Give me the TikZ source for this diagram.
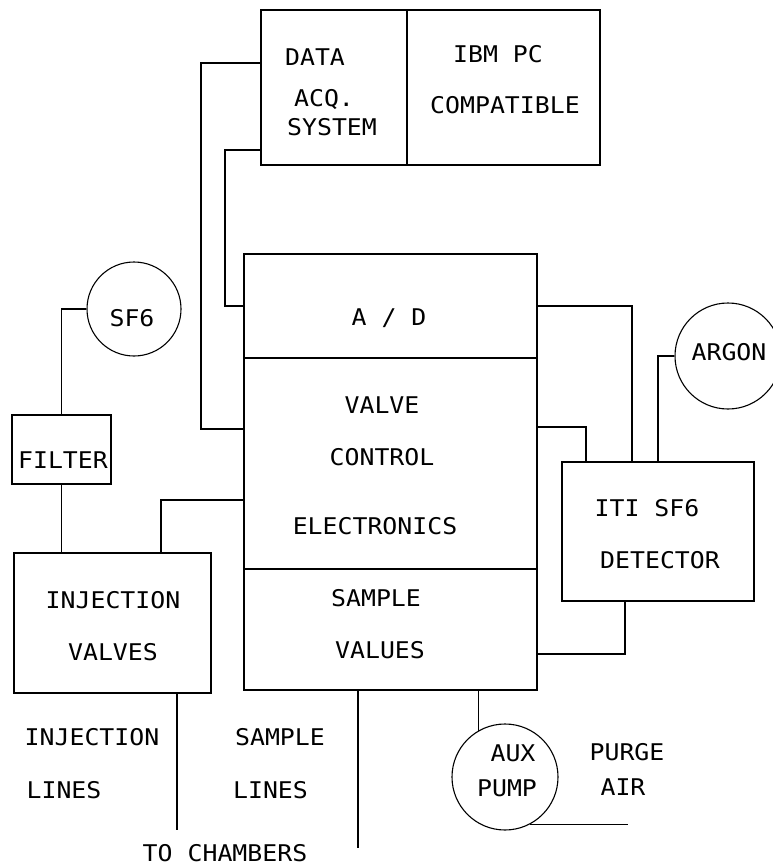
\documentclass[tikz,border=0pt]{standalone}
\usepackage{fontspec}
\newfontfamily\plotfont[FakeStretch=1.08]{DejaVu Sans Mono}
\usetikzlibrary{calc}

\begin{document}
\begin{tikzpicture}[x=1pt, y=-1pt, line width=1.1pt,
	box/.style={draw, rectangle, inner sep=0pt},
	tank/.style={draw, circle, inner sep=0pt},
	lbl/.style={font={\plotfont\fontsize{23}{26}\selectfont}, inner sep=0pt, text height=16.8pt, text depth=0pt}]
	\clip (0,0) rectangle (773,867);
	% computer
	\node[box, minimum width=146pt, minimum height=155pt] (daq) at (334,87.5) {};
	\node[box, minimum width=193pt, minimum height=155pt] (ibm) at (503.5,87.5) {};
	\node[lbl] at (315,57) {DATA};
	\node[lbl] at (324,98) {ACQ.};
	\node[lbl] at (332,127) {SYSTEM};
	\node[lbl] at (498,54) {IBM PC};
	\node[lbl] at (505,105) {COMPATIBLE};
	% electronics rack
	\node[box, minimum width=293pt, minimum height=104pt] (ad) at (390.5,306) {};
	\node[box, minimum width=293pt, minimum height=211pt] (vce) at (390.5,463.5) {};
	\node[box, minimum width=293pt, minimum height=121pt] (sv) at (390.5,629.5) {};
	\node[lbl] at (389,317) {A / D};
	\node[lbl] at (382,405) {VALVE};
	\node[lbl] at (382,457) {CONTROL};
	\node[lbl] at (375,526) {ELECTRONICS};
	\node[lbl] at (376,598) {SAMPLE};
	\node[lbl] at (380,650) {VALUES};
	% detector side
	\node[box, minimum width=192pt, minimum height=139pt] (det) at (658,531.5) {};
	\node[lbl] at (647,508) {ITI SF6};
	\node[lbl] at (660,560) {DETECTOR};
	\node[tank, minimum size=106pt] (argon) at (728,356) {};
	\node[lbl] at (729,352) {ARGON};
	% injection side
	\node[tank, minimum size=94pt] (sf6) at (134,309) {};
	\node[lbl] at (132,318) {SF6};
	\node[box, minimum width=99pt, minimum height=69pt] (filter) at (61.5,449.5) {};
	\node[lbl] at (63,460) {FILTER};
	\node[box, minimum width=197pt, minimum height=140pt] (inj) at (112.5,623) {};
	\node[lbl] at (113,600) {INJECTION};
	\node[lbl] at (113,652) {VALVES};
	% pump
	\node[tank, minimum size=106pt] (pump) at (505,777) {};
	\node[lbl] at (513,753) {AUX};
	\node[lbl] at (507,788) {PUMP};
	\node[lbl] at (627,752) {PURGE};
	\node[lbl] at (623,787) {AIR};
	% bottom labels
	\node[lbl] at (92,737) {INJECTION};
	\node[lbl] at (64,790) {LINES};
	\node[lbl] at (280,737) {SAMPLE};
	\node[lbl] at (270.5,790) {LINES};
	\node[lbl] at (225,853) {TO CHAMBERS};
	% links
	\coordinate (k1) at (201,63);
	\coordinate (k2) at (201,429);
	\draw (daq.west |- k1) -- (k1) -- (k2) -- (k2 -| vce.west);
	\coordinate (k3) at (225,150);
	\draw (daq.west |- k3) -- (k3) |- (ad.west);
	\coordinate (k4) at (632,306);
	\draw (ad.east) -- (k4) -- (k4 |- det.north);
	\coordinate (k5) at (586,427);
	\draw (k5 -| vce.east) -- (k5) -- (k5 |- det.north);
	\draw (argon.west) -| (det.north);
	\coordinate (k6) at (625,654);
	\draw (k6 |- det.south) -- (k6) -- (k6 -| sv.east);
	\draw (sv.south -| pump.120) -- (pump.120);
	\coordinate (purge) at (628,827);
	\draw (pump.-62) -- (pump.-62 -| purge);
	\coordinate (sl) at (358,848);
	\draw (sl |- sv.south) -- (sl);
	\coordinate (il) at (177,830);
	\draw (il |- inj.south) -- (il);
	\coordinate (k8) at (161,500);
	\draw (k8 |- inj.north) -- (k8) -- (k8 -| vce.west);
	\draw (sf6.west) -| (filter.north);
	\draw (filter.south) -- (filter.south |- inj.north);
\end{tikzpicture}
\end{document}
